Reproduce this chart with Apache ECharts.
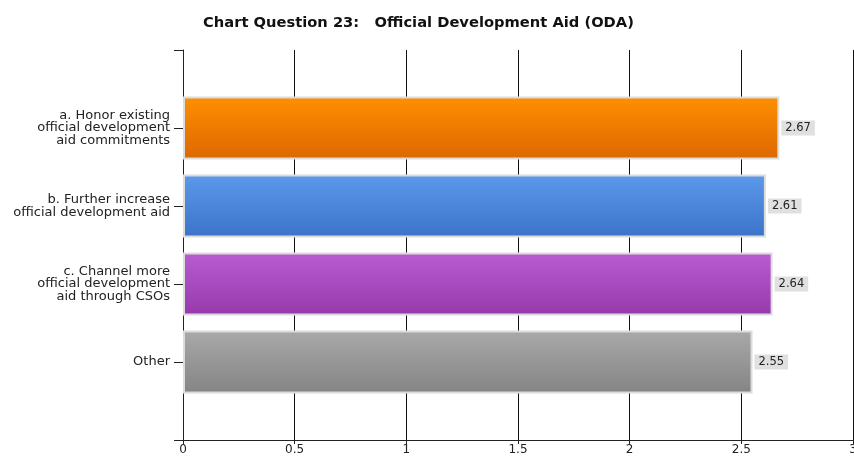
<!DOCTYPE html>
<html>
<head>
<meta charset="utf-8">
<script src="https://cdn.jsdelivr.net/npm/echarts@6/dist/echarts.min.js"></script>
<style>
html, body { margin: 0; padding: 0; background: #fff; }
#main { width: 854px; height: 457px; }
</style>
</head>
<body>
<div id="main"></div>
<script>
// categories, top to bottom
var categories = [
    'a. Honor existing\nofficial development\naid commitments',
    'b. Further increase\nofficial development aid',
    'c. Channel more\nofficial development\naid through CSOs',
    'Other'
];
var values = [2.67, 2.61, 2.64, 2.55];
// gradient top / bottom per bar
var topColors = ['#ff8f00', '#5c99ea', '#b95cd2', '#a9a9a9'];
var bottomColors = ['#dc6800', '#3b73c9', '#9539ab', '#848484'];

var chart = echarts.init(document.getElementById('main'));

// empty slots above and below so the bars sit on ticks like the original
var yData = [''].concat(categories).concat(['']);
var barData = [null];
for (var i = 0; i < values.length; i++) {
    barData.push({
        value: values[i],
        itemStyle: {
            color: new echarts.graphic.LinearGradient(0, 0, 0, 1, [
                { offset: 0, color: topColors[i] },
                { offset: 1, color: bottomColors[i] }
            ])
        }
    });
}
barData.push(null);

var font = 'DejaVu Sans';

var option = {
    animation: false,
    title: {
        text: 'Chart Question 23:   Official Development Aid (ODA)',
        left: 198,
        top: 11,
        textStyle: { fontFamily: font, fontSize: 14.7, fontWeight: 'bold', color: '#111' }
    },
    grid: { left: 183, right: 1, top: 50, bottom: 17, containLabel: false, outerBoundsMode: 'none' },
    xAxis: {
        type: 'value',
        min: 0,
        max: 3,
        interval: 0.5,
        axisLine: { show: true, lineStyle: { color: '#222', width: 1 } },
        axisTick: { show: true, length: 4, lineStyle: { color: '#222' } },
        splitLine: { show: true, lineStyle: { color: '#111', width: 1 } },
        axisLabel: { margin: 4, fontFamily: font, fontSize: 12, color: '#222' }
    },
    yAxis: {
        type: 'category',
        inverse: true,
        boundaryGap: false,
        data: yData,
        axisLine: { show: true, lineStyle: { color: '#222', width: 1 } },
        axisTick: { show: true, length: 9, inside: false, lineStyle: { color: '#222' } },
        axisLabel: {
            margin: 13,
            fontFamily: font,
            fontSize: 13,
            lineHeight: 12.5,
            color: '#222',
            align: 'right'
        }
    },
    series: [{
        type: 'bar',
        data: barData,
        barWidth: 63,
        itemStyle: { borderColor: '#dcdcdc', borderWidth: 2 },
        label: {
            show: true,
            position: 'right',
            distance: 2,
            fontFamily: font,
            fontSize: 11.5,
            color: '#222',
            backgroundColor: '#e0e0e0',
            padding: [2, 4, 1, 4],
            formatter: function (p) { return p.value.toFixed(2); }
        }
    }]
};

chart.setOption(option);
</script>
</body>
</html>
